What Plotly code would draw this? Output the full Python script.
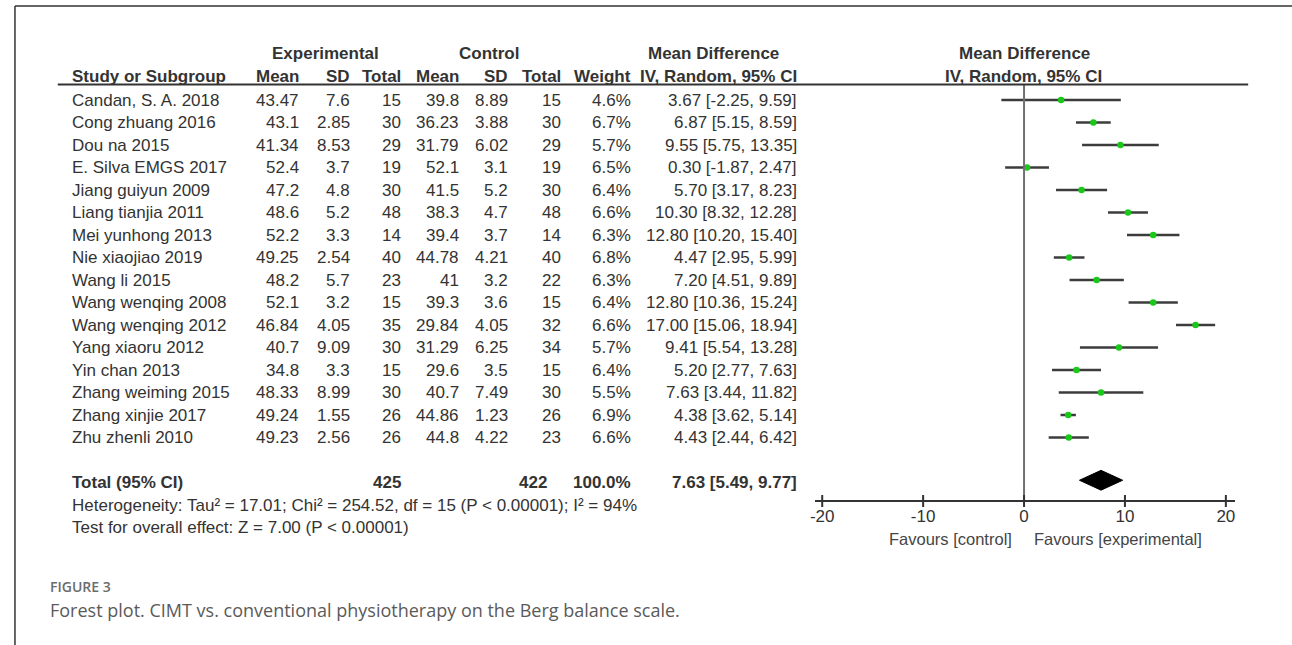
import plotly.graph_objects as go

# ---------------- data ----------------
studies = ["Candan, S. A. 2018", "Cong zhuang 2016", "Dou na 2015", "E. Silva EMGS 2017",
           "Jiang guiyun 2009", "Liang tianjia 2011", "Mei yunhong 2013", "Nie xiaojiao 2019",
           "Wang li 2015", "Wang wenqing 2008", "Wang wenqing 2012", "Yang xiaoru 2012",
           "Yin chan 2013", "Zhang weiming 2015", "Zhang xinjie 2017", "Zhu zhenli 2010"]
exp_mean = [43.47, 43.1, 41.34, 52.4, 47.2, 48.6, 52.2, 49.25, 48.2, 52.1, 46.84, 40.7, 34.8, 48.33, 49.24, 49.23]
exp_sd = [7.6, 2.85, 8.53, 3.7, 4.8, 5.2, 3.3, 2.54, 5.7, 3.2, 4.05, 9.09, 3.3, 8.99, 1.55, 2.56]
exp_n = [15, 30, 29, 19, 30, 48, 14, 40, 23, 15, 35, 30, 15, 30, 26, 26]
ctl_mean = [39.8, 36.23, 31.79, 52.1, 41.5, 38.3, 39.4, 44.78, 41, 39.3, 29.84, 31.29, 29.6, 40.7, 44.86, 44.8]
ctl_sd = [8.89, 3.88, 6.02, 3.1, 5.2, 4.7, 3.7, 4.21, 3.2, 3.6, 4.05, 6.25, 3.5, 7.49, 1.23, 4.22]
ctl_n = [15, 30, 29, 19, 30, 48, 14, 40, 22, 15, 32, 34, 15, 30, 26, 23]
weight = [4.6, 6.7, 5.7, 6.5, 6.4, 6.6, 6.3, 6.8, 6.3, 6.4, 6.6, 5.7, 6.4, 5.5, 6.9, 6.6]
md = [3.67, 6.87, 9.55, 0.30, 5.70, 10.30, 12.80, 4.47, 7.20, 12.80, 17.00, 9.41, 5.20, 7.63, 4.38, 4.43]
ci_lo = [-2.25, 5.15, 5.75, -1.87, 3.17, 8.32, 10.20, 2.95, 4.51, 10.36, 15.06, 5.54, 2.77, 3.44, 3.62, 2.44]
ci_hi = [9.59, 8.59, 13.35, 2.47, 8.23, 12.28, 15.40, 5.99, 9.89, 15.24, 18.94, 13.28, 7.63, 11.82, 5.14, 6.42]

total_exp_n = 425
total_ctl_n = 422
total_weight = 100.0
total_md, total_lo, total_hi = 7.63, 5.49, 9.77
heterogeneity = "Heterogeneity: Tau\u00b2 = 17.01; Chi\u00b2 = 254.52, df = 15 (P < 0.00001); I\u00b2 = 94%"
overall_test = "Test for overall effect: Z = 7.00 (P < 0.00001)"
tick_vals = [-20, -10, 0, 10, 20]
tick_text = ["-20", "-10", "0", "10", "20"]
favours_left = "Favours [control]"
favours_right = "Favours [experimental]"
caption_label = "FIGURE 3"
caption_text = "Forest plot. CIMT vs. conventional physiotherapy on the Berg balance scale."

# ---------------- layout helpers ----------------
W, H = 1292, 645
ROW0, ROWH = 100.0, 22.5


def row_of(py):
    return (py - ROW0) / ROWH


def pxx(x):
    return x / W


FONT = "Liberation Sans, Arial, sans-serif"
TXT = "#333333"
FS = 17

n = len(studies)
rows = list(range(n))
total_row = 17
het_row = 18
test_row = 19
axis_px = 501
axis_row = row_of(axis_px)
tick_half = 6 / ROWH

fig = go.Figure()

# CI lines
xs, ys = [], []
for i, (l, h) in enumerate(zip(ci_lo, ci_hi)):
    xs += [l, h, None]
    ys += [i, i, None]
fig.add_trace(go.Scatter(x=xs, y=ys, mode="lines", line=dict(color="#3c3c3c", width=2.5),
                         hoverinfo="skip"))
# point estimates
fig.add_trace(go.Scatter(x=md, y=rows, mode="markers",
                         marker=dict(symbol="circle", size=6.5, color="#19c819", line=dict(width=0))))
# zero line
fig.add_trace(go.Scatter(x=[0, 0], y=[row_of(84.5), axis_row], mode="lines",
                         line=dict(color="#707070", width=2), hoverinfo="skip"))
# overall diamond
dh = 0.44
dy = total_row - 0.1
fig.add_trace(go.Scatter(x=[total_lo, total_md, total_hi, total_md, total_lo],
                         y=[dy, dy - dh, dy, dy + dh, dy],
                         mode="lines", fill="toself", fillcolor="black",
                         line=dict(color="black", width=1), hoverinfo="skip"))
# tick marks crossing the axis line
tx, ty = [], []
for t in tick_vals:
    tx += [t, t, None]
    ty += [axis_row - tick_half, axis_row + tick_half, None]
fig.add_trace(go.Scatter(x=tx, y=ty, mode="lines", line=dict(color="#333333", width=2),
                         hoverinfo="skip"))

ann = []


def add(text, x, row, anchor="right", bold=False, size=FS, color=TXT, family=FONT, yref="y"):
    ann.append(dict(text=text, x=pxx(x), xref="paper", y=row, yref=yref,
                    xanchor=anchor, yanchor="middle", showarrow=False,
                    font=dict(family=family, size=size, color=color,
                              weight="bold" if bold else "normal")))


# headers
hdr1 = row_of(53.3)
hdr2 = row_of(76.7)
add("Experimental", 322, hdr1, "center", True)
add("Control", 486, hdr1, "center", True)
add("Mean Difference", 711, hdr1, "center", True)
add("Mean Difference", 1023, hdr1, "center", True)
add("Study or Subgroup", 65, hdr2, "left", True)
add("Mean", 297, hdr2, "right", True)
add("SD", 348, hdr2, "right", True)
add("Total", 400, hdr2, "right", True)
add("Mean", 458, hdr2, "right", True)
add("SD", 507, hdr2, "right", True)
add("Total", 560, hdr2, "right", True)
add("Weight", 630, hdr2, "right", True)
add("IV, Random, 95% CI", 797, hdr2, "right", True)
add("IV, Random, 95% CI", 1022, hdr2, "center", True)

for i in rows:
    add(studies[i], 65, i, "left")
    add(f"{exp_mean[i]:g}", 297, i)
    add(f"{exp_sd[i]:g}", 348, i)
    add(str(exp_n[i]), 400, i)
    add(f"{ctl_mean[i]:g}", 458, i)
    add(f"{ctl_sd[i]:g}", 507, i)
    add(str(ctl_n[i]), 560, i)
    add(f"{weight[i]:.1f}%", 630, i)
    add(f"{md[i]:.2f} [{ci_lo[i]:.2f}, {ci_hi[i]:.2f}]", 797, i)

add("Total (95% CI)", 65, total_row, "left", True)
add(str(total_exp_n), 400, total_row, "right", True)
add(str(total_ctl_n), 546, total_row, "right", True)
add(f"{total_weight:.1f}%", 630, total_row, "right", True)
add(f"{total_md:.2f} [{total_lo:.2f}, {total_hi:.2f}]", 797, total_row, "right", True)
add(heterogeneity, 65, het_row, "left")
add(overall_test, 65, test_row, "left")

fav_row = row_of(539)
add(favours_left, 1013, fav_row, "right", size=16.5, color="#454545")
add(favours_right, 1031, fav_row, "left", size=16.5, color="#454545")

add(caption_label, 43, 1 - 586 / H, "left", size=14, color="#6b6b6b",
    family="Open Sans, Noto Sans, sans-serif", yref="paper")
ann[-1]["font"]["weight"] = 600
add(caption_text, 43, 1 - 610 / H, "left", size=18, color="#5a5a5a",
    family="Open Sans, Noto Sans, sans-serif", yref="paper")

shapes = [
    dict(type="line", xref="paper", yref="paper", x0=pxx(10), x1=1, y0=1 - 6 / H, y1=1 - 6 / H,
         line=dict(color="#333333", width=1.5)),
    dict(type="line", xref="paper", yref="paper", x0=pxx(10), x1=pxx(10), y0=1 - 6 / H, y1=0,
         line=dict(color="#333333", width=1.5)),
    dict(type="line", xref="paper", yref="paper", x0=pxx(53), x1=pxx(1248), y0=1 - 84.5 / H,
         y1=1 - 84.5 / H, line=dict(color="#333333", width=2)),
]

x_lo, x_hi = -20.7, 20.9
px_per = 10.13
zero_px = 1023.0
fig.update_layout(
    width=W, height=H, autosize=False,
    margin=dict(l=0, r=0, t=0, b=0, pad=0),
    paper_bgcolor="white", plot_bgcolor="white",
    showlegend=False,
    xaxis=dict(domain=[pxx(zero_px + x_lo * px_per), pxx(zero_px + x_hi * px_per)],
               range=[x_lo, x_hi], anchor="free", position=1 - axis_px / H,
               showline=True, linecolor="#333333", linewidth=2,
               ticks="", tickvals=tick_vals, ticktext=tick_text,
               tickfont=dict(family=FONT, size=FS, color=TXT),
               showgrid=False, zeroline=False, fixedrange=True),
    yaxis=dict(domain=[0, 1], range=[row_of(H), row_of(0)], visible=False,
               showgrid=False, zeroline=False, fixedrange=True),
    annotations=ann,
    shapes=shapes,
)

fig.write_html("out.html")
